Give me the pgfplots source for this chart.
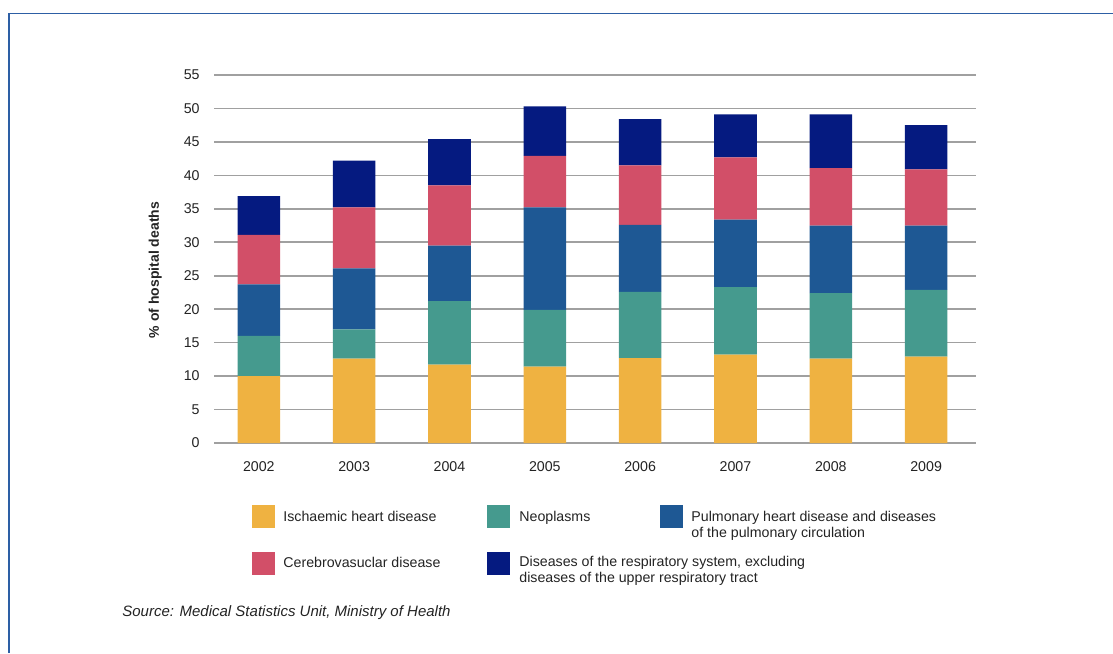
\documentclass[border=0pt]{standalone}
\usepackage{fontspec}
\setmainfont{Liberation Sans}
\usepackage{pgfplots}
\usepackage{pgfplotstable}
\pgfplotsset{compat=1.18}

\definecolor{cIsch}{RGB}{239,178,65}
\definecolor{cNeo}{RGB}{69,154,142}
\definecolor{cPulm}{RGB}{30,88,148}
\definecolor{cCere}{RGB}{210,79,104}
\definecolor{cResp}{RGB}{5,26,128}
\definecolor{gridgray}{RGB}{160,160,160}
\definecolor{framecol}{RGB}{45,95,165}
\definecolor{txt}{RGB}{35,35,35}

% share of hospital deaths (%) by cause, stacked
\pgfplotstableread{
idx year isch neo  pulm cere resp
0   2002 10.0 6.0  7.7  7.4  5.8
1   2003 12.6 4.4  9.1  9.1  7.0
2   2004 11.7 9.5  8.3  9.0  6.9
3   2005 11.4 8.5  15.3 7.7  7.4
4   2006 12.7 9.9  10.0 8.9  6.9
5   2007 13.2 10.1 10.1 9.3  6.4
6   2008 12.6 9.8  10.1 8.6  8.0
7   2009 12.9 10.0 9.6  8.4  6.6
}\deaths

\newcommand{\fs}{\fontsize{7.1pt}{8.5pt}\selectfont}

\begin{document}
\begin{tikzpicture}
% page layout in a half-point grid measured from the top-left corner
\begin{scope}[x=0.5pt,y=-0.5pt]
\path[use as bounding box] (0,0) rectangle (1113,653);
\draw[framecol, line width=0.7pt] (9,653) -- (9,13.5) -- (1113,13.5);
\end{scope}

\begin{axis}[
  at={(107pt,-221.5pt)}, anchor=south west,
  scale only axis, width=380.85pt, height=184pt,
  xmin=-0.47, xmax=7.52, ymin=0, ymax=55,
  ybar stacked, bar width=21.3pt,
  xtick={0,...,7},
  xticklabels={2002,2003,2004,2005,2006,2007,2008,2009},
  ytick={0,5,...,55},
  ymajorgrids, grid style={gridgray, line width=0.8pt},
  axis line style={draw=none}, major tick length=0pt,
  tick label style={font=\fs, text=txt},
  /pgf/number format/assume math mode=true,
  yticklabel style={anchor=east, inner sep=0pt, xshift=-7pt},
  xticklabel style={anchor=center, inner sep=0pt, yshift=-12pt},
  ylabel={\% of hospital deaths},
  ylabel style={font=\bfseries\fontsize{7pt}{8pt}\selectfont, text=txt,
    at={(axis description cs:-0.077,0.47)}, anchor=center},
]
\addplot[draw=none, fill=cIsch] table[x=idx, y=isch] {\deaths};
\addplot[draw=none, fill=cNeo]  table[x=idx, y=neo]  {\deaths};
\addplot[draw=none, fill=cPulm] table[x=idx, y=pulm] {\deaths};
\addplot[draw=none, fill=cCere] table[x=idx, y=cere] {\deaths};
\addplot[draw=none, fill=cResp] table[x=idx, y=resp] {\deaths};
\end{axis}

\begin{scope}[x=0.5pt,y=-0.5pt]
% legend
\fill[cIsch] (252,505) rectangle (275,528);
\fill[cNeo]  (487,505) rectangle (510,528);
\fill[cPulm] (660,505) rectangle (683,528);
\fill[cCere] (252,552) rectangle (275,575);
\fill[cResp] (487,552) rectangle (510,575);
\begin{scope}[every node/.style={anchor=base west, inner sep=0pt, font=\fs, text=txt}]
\node at (283,521) {Ischaemic heart disease};
\node at (519,521) {Neoplasms};
\node at (691,521) {Pulmonary heart disease and diseases};
\node at (691,537) {of the pulmonary circulation};
\node at (283,567) {Cerebrovasuclar disease};
\node at (519,566) {Diseases of the respiratory system, excluding};
\node at (519,582) {diseases of the upper respiratory tract};
\node[font=\fontsize{7.5pt}{9pt}\selectfont\itshape] at (122,616) {Source: Medical Statistics Unit, Ministry of Health};
\end{scope}
\end{scope}
\end{tikzpicture}
\end{document}
